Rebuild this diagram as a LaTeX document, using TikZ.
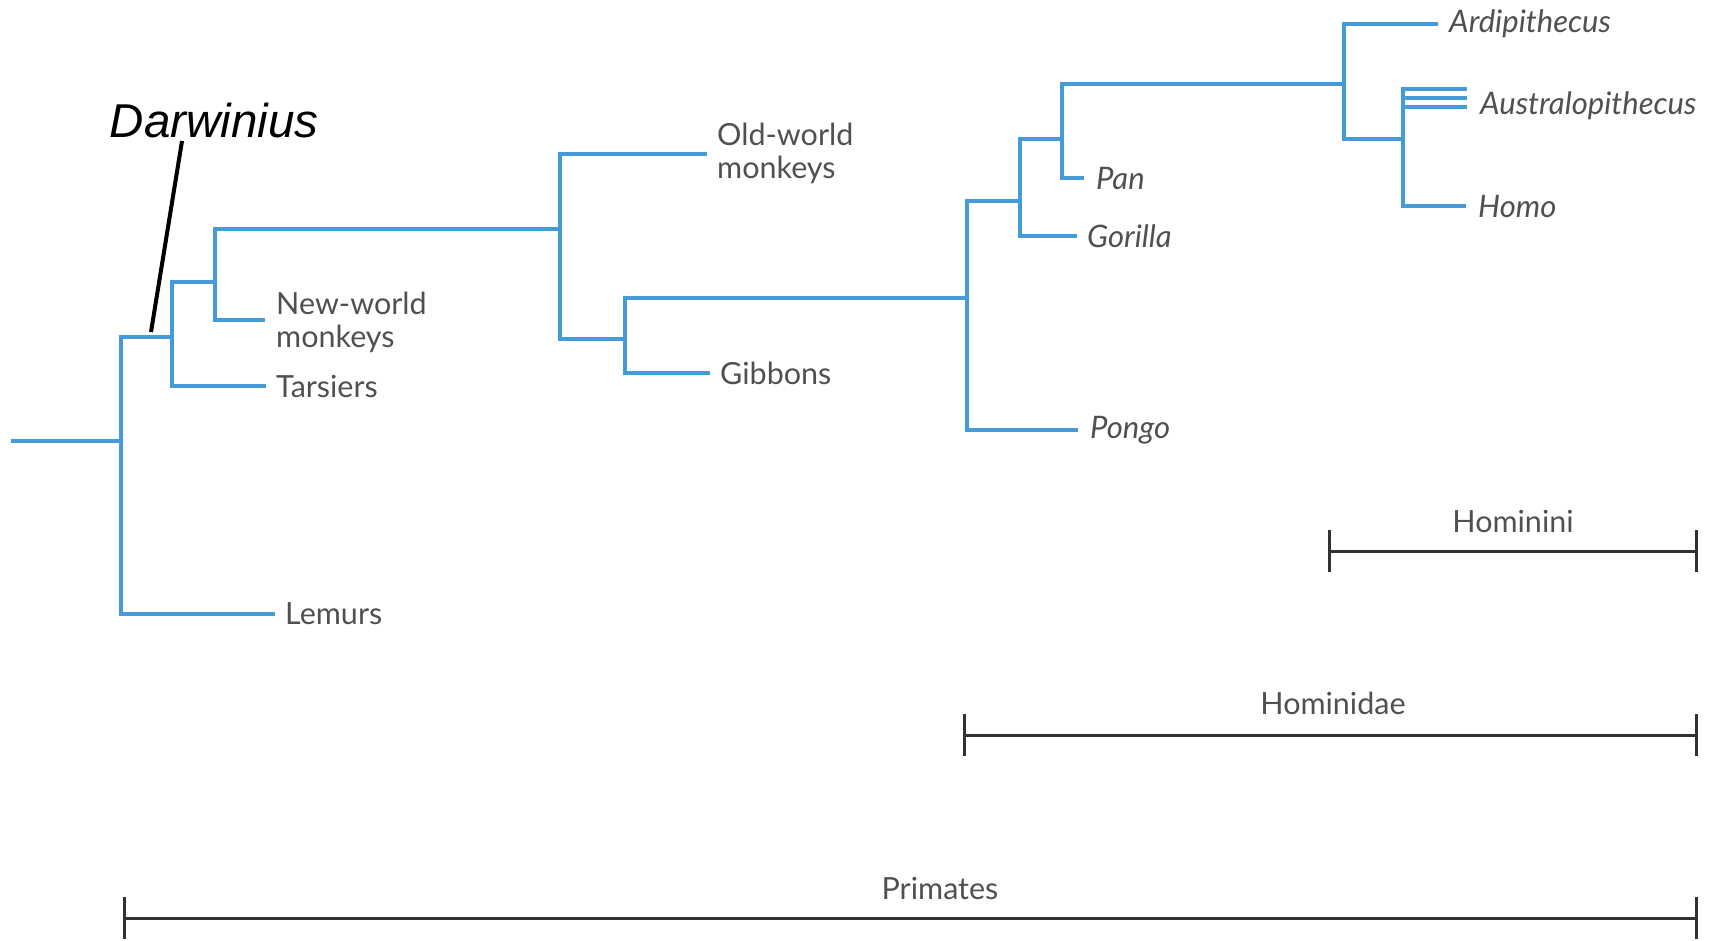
\documentclass[tikz,border=0pt]{standalone}
\usepackage{fontspec}
\setmainfont{Lato}
\newfontfamily\arialfont{Liberation Sans}
\usetikzlibrary{arrows.meta}
\definecolor{treeblue}{RGB}{68,155,216}
\definecolor{labelgrey}{RGB}{80,80,80}
\definecolor{bargrey}{RGB}{50,50,50}
\tikzset{
  branch/.style={draw=treeblue, line width=4.5pt, line join=miter, line cap=rect},
  taxon/.style={anchor=west, inner sep=0pt, text=labelgrey, font=\fontsize{30.5}{33}\selectfont, align=left},
  genus/.style={taxon, font=\fontsize{31}{33}\selectfont\itshape},
  rangebar/.style={draw=bargrey, line width=3pt, {Bar[width=42pt]}-{Bar[width=42pt]}},
  rangelabel/.style={inner sep=0pt, text=labelgrey, font=\fontsize{30.5}{33}\selectfont},
  pointer/.style={draw=black, line width=4pt}
}
\begin{document}
\begin{tikzpicture}[x=1pt,y=-1pt]
\useasboundingbox (0,0) rectangle (1713,940);

% internal splits of the tree
\coordinate (base) at (13,441);
\coordinate (n1) at (121,441);
\coordinate (n2) at (172,337);
\coordinate (n3) at (215,282);
\coordinate (n4) at (560,229);
\coordinate (n5) at (625,339);
\coordinate (n6) at (967,298);
\coordinate (n7) at (1020,201);
\coordinate (n8) at (1062,139);
\coordinate (n9) at (1344,84);
\coordinate (n10) at (1403,139);

% tips of the branches
\coordinate (lem) at (273,614);
\coordinate (tar) at (264,386);
\coordinate (nwm) at (263,320);
\coordinate (owm) at (705,154);
\coordinate (gib) at (708,373);
\coordinate (pon) at (1076,430);
\coordinate (gor) at (1075,236);
\coordinate (pan) at (1082,178);
\coordinate (ard) at (1436,24);
\coordinate (au1) at (1465,89);
\coordinate (au2) at (1465,98);
\coordinate (au3) at (1465,107);
\coordinate (hom) at (1464,206);

% branches
\draw[branch] (base) -- (n1);
\draw[branch] (n1) |- (lem);
\draw[branch] (n1) |- (n2);
\draw[branch] (n2) |- (tar);
\draw[branch] (n2) |- (n3);
\draw[branch] (n3) |- (nwm);
\draw[branch] (n3) |- (n4);
\draw[branch] (n4) |- (owm);
\draw[branch] (n4) |- (n5);
\draw[branch] (n5) |- (gib);
\draw[branch] (n5) |- (n6);
\draw[branch] (n6) |- (pon);
\draw[branch] (n6) |- (n7);
\draw[branch] (n7) |- (gor);
\draw[branch] (n7) |- (n8);
\draw[branch] (n8) |- (pan);
\draw[branch] (n8) |- (n9);
\draw[branch] (n9) |- (ard);
\draw[branch] (n9) |- (n10);
\draw[branch] (n10) |- (au1);
\draw[branch] (n10) |- (au2);
\draw[branch] (n10) |- (au3);
\draw[branch] (n10) |- (hom);

% tip labels
\node[taxon] (lemL) at ([xshift=12pt]lem) {Lemurs};
\node[taxon] (tarL) at ([xshift=12pt]tar) {Tarsiers};
\node[taxon] (nwmL) at ([xshift=13pt,yshift=-2pt]nwm) {New-world\\monkeys};
\node[taxon] (owmL) at ([xshift=12pt,yshift=1pt]owm) {Old-world\\monkeys};
\node[taxon] (gibL) at ([xshift=12pt]gib) {Gibbons};
\node[genus] (ponL) at ([xshift=14pt]pon) {Pongo};
\node[genus] (gorL) at ([xshift=12pt]gor) {Gorilla};
\node[genus] (panL) at ([xshift=14pt]pan) {Pan};
\node[genus] (ardL) at ([xshift=13pt]ard) {Ardipithecus};
\node[genus] (ausL) at ([xshift=15pt,yshift=-8pt]au2) {Australopithecus};
\node[genus] (homL) at ([xshift=14pt]hom) {Homo};

% fossil marker
\node[inner sep=0pt, font=\arialfont\fontsize{47.5}{50}\selectfont\itshape] (dar) at (214,121) {Darwinius};
\coordinate (dartop) at (182,141);
\coordinate (dartip) at (151,332);
\draw[pointer] (dartop) -- (dartip);

% taxonomic ranges
\coordinate (hiA) at (1328,551);
\coordinate (hiB) at (1698,551);
\coordinate (hdA) at (963,735);
\coordinate (hdB) at (1698,735);
\coordinate (prA) at (123,918);
\coordinate (prB) at (1698,918);
\draw[rangebar] (hiA) -- (hiB);
\draw[rangebar] (hdA) -- (hdB);
\draw[rangebar] (prA) -- (prB);
\node[rangelabel] (hiL) at (1513,521) {Hominini};
\node[rangelabel] (hdL) at (1333,703) {Hominidae};
\node[rangelabel] (prL) at (940,888) {Primates};
\end{tikzpicture}
\end{document}
